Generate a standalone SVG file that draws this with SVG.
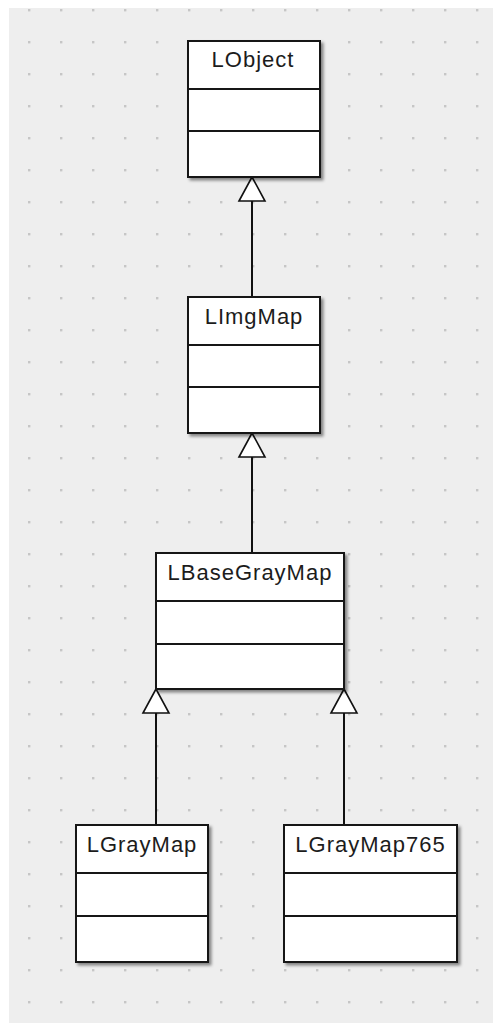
<svg xmlns="http://www.w3.org/2000/svg" width="493" height="1023" viewBox="0 0 493 1023">
  <defs>
    <pattern id="grid" patternUnits="userSpaceOnUse" x="28" y="9" width="32" height="32">
      <rect x="0" y="0" width="2.4" height="2.4" fill="#c6c6c6"/>
    </pattern>
    <filter id="shadow" x="-10%" y="-10%" width="130%" height="130%">
      <feDropShadow dx="2.5" dy="2.5" stdDeviation="1.4" flood-color="#000" flood-opacity="0.45"/>
    </filter>
    <marker id="inherit" markerUnits="userSpaceOnUse" viewBox="-2 -16 30 32" refX="24" refY="0" markerWidth="30" markerHeight="32" orient="auto" overflow="visible">
      <path d="M0,-13 L24,0 L0,13 Z" fill="#fff" stroke="#111" stroke-width="1.6" stroke-linejoin="miter"/>
    </marker>
    <style>
      .box { fill: #fff; stroke: #161616; stroke-width: 2; }
      .sep { stroke: #161616; stroke-width: 2; }
      .name { font-family: "Liberation Sans", Arial, sans-serif; font-size: 22px; letter-spacing: 1px; fill: #1c1c1c; text-anchor: middle; }
      .edge { fill: none; stroke: #111; stroke-width: 2; marker-end: url(#inherit); }
    </style>
  </defs>

  <!-- canvas with dotted grid -->
  <rect x="0" y="0" width="493" height="1023" fill="#fff"/>
  <rect x="9" y="8" width="484" height="1015" fill="#eeeeee"/>
  <rect x="9" y="8" width="484" height="1015" fill="url(#grid)"/>

  <!-- generalization connectors -->
  <g id="connectors">
    <path class="edge" d="M252,297 L252,177"/>
    <path class="edge" d="M252,553 L252,433"/>
    <path class="edge" d="M156,825 L156,689"/>
    <path class="edge" d="M344,825 L344,689"/>
  </g>

  <g id="LObject">
    <rect class="box" x="188" y="41" width="132" height="136" filter="url(#shadow)"/>
    <line class="sep" x1="188" y1="89" x2="320" y2="89"/>
    <line class="sep" x1="188" y1="131" x2="320" y2="131"/>
    <text class="name" x="253" y="67">LObject</text>
  </g>

  <g id="LImgMap">
    <rect class="box" x="188" y="297" width="132" height="136" filter="url(#shadow)"/>
    <line class="sep" x1="188" y1="345" x2="320" y2="345"/>
    <line class="sep" x1="188" y1="387" x2="320" y2="387"/>
    <text class="name" x="254" y="324">LImgMap</text>
  </g>

  <g id="LBaseGrayMap">
    <rect class="box" x="156" y="553" width="188" height="136" filter="url(#shadow)"/>
    <line class="sep" x1="156" y1="601" x2="344" y2="601"/>
    <line class="sep" x1="156" y1="644" x2="344" y2="644"/>
    <text class="name" x="250" y="580">LBaseGrayMap</text>
  </g>

  <g id="LGrayMap">
    <rect class="box" x="76" y="825" width="132" height="137" filter="url(#shadow)"/>
    <line class="sep" x1="76" y1="873" x2="208" y2="873"/>
    <line class="sep" x1="76" y1="916" x2="208" y2="916"/>
    <text class="name" x="142" y="852">LGrayMap</text>
  </g>

  <g id="LGrayMap765">
    <rect class="box" x="284" y="825" width="173" height="137" filter="url(#shadow)"/>
    <line class="sep" x1="284" y1="873" x2="457" y2="873"/>
    <line class="sep" x1="284" y1="916" x2="457" y2="916"/>
    <text class="name" x="370.5" y="852">LGrayMap765</text>
  </g>
</svg>
